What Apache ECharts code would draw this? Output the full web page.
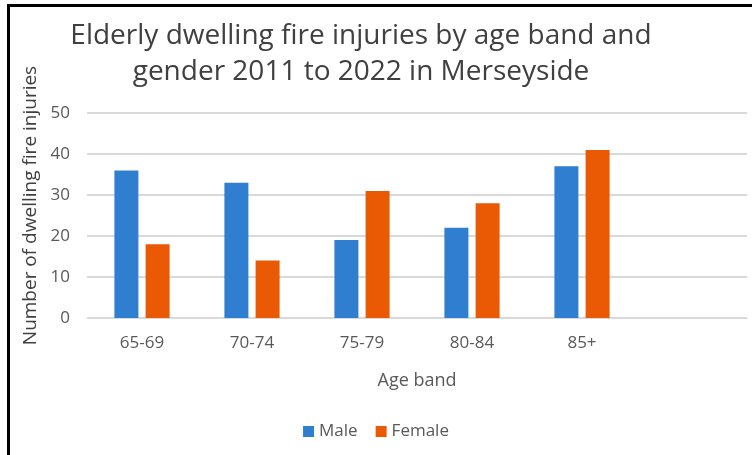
<!DOCTYPE html>
<html>
<head>
<meta charset="utf-8">
<script src="https://cdn.jsdelivr.net/npm/echarts@6/dist/echarts.min.js"></script>
<style>
  html, body { margin: 0; padding: 0; background: #fff; }
  #chart { width: 752px; height: 455px; }
</style>
</head>
<body>
<div id="chart"></div>
<script>
// age bands (last slot is left empty, like the original sheet)
const ageBands = ['65-69', '70-74', '75-79', '80-84', '85+', '']
const maleData = [36, 33, 19, 22, 37, null]
const femaleData = [18, 14, 31, 28, 41, null]
const yTicks = [0, 10, 20, 30, 40, 50]

const font = "'Open Sans', 'Liberation Sans', sans-serif"
const chart = echarts.init(document.getElementById('chart'))

chart.setOption({
  animation: false,
  textStyle: { fontFamily: font },
  title: {
    text: 'Elderly dwelling fire injuries by age band and\ngender 2011 to 2022 in Merseyside',
    left: 356,
    top: 13,
    textAlign: 'center',
    textStyle: {
      fontFamily: font,
      fontSize: 28,
      fontWeight: 'normal',
      color: '#404040',
      lineHeight: 36
    }
  },
  legend: {
    bottom: 10,
    left: 'center',
    icon: 'rect',
    itemWidth: 11,
    itemHeight: 11,
    itemGap: 18,
    textStyle: { fontSize: 17, color: '#595959', fontFamily: font },
    data: ['Male', 'Female']
  },
  grid: {
    left: 87,
    right: 5,
    top: 113,
    bottom: 137
  },
  xAxis: {
    type: 'category',
    data: ageBands,
    name: 'Age band',
    nameLocation: 'middle',
    nameGap: 54,
    nameTextStyle: { fontSize: 18, color: '#595959', fontFamily: font },
    axisLine: { lineStyle: { color: '#d9d9d9', width: 1 } },
    axisTick: { show: false },
    axisLabel: { fontSize: 17, color: '#595959', margin: 17 }
  },
  yAxis: {
    type: 'value',
    min: yTicks[0],
    max: yTicks[yTicks.length - 1],
    interval: 10,
    name: 'Number of dwelling fire injuries',
    nameLocation: 'middle',
    nameGap: 44,
    nameTextStyle: { fontSize: 19, color: '#404040', fontFamily: font, padding: [0, 0, 0, 20] },
    axisLine: { show: false },
    axisTick: { show: false },
    axisLabel: { fontSize: 17, color: '#595959', margin: 17 },
    splitLine: { lineStyle: { color: '#d9d9d9', width: 2 } }
  },
  series: [
    {
      name: 'Male',
      type: 'bar',
      data: maleData,
      barWidth: 24,
      barGap: '30%',
      itemStyle: { color: '#2f7ed0' }
    },
    {
      name: 'Female',
      type: 'bar',
      data: femaleData,
      barWidth: 24,
      itemStyle: { color: '#ea5a04' }
    }
  ],
  graphic: [
    // frame lines from the pasted chart
    { type: 'rect', shape: { x: 7, y: 4, width: 3, height: 451 }, style: { fill: '#000' } },
    { type: 'rect', shape: { x: 7, y: 4, width: 745, height: 3 }, style: { fill: '#000' } }
  ]
})
</script>
</body>
</html>
